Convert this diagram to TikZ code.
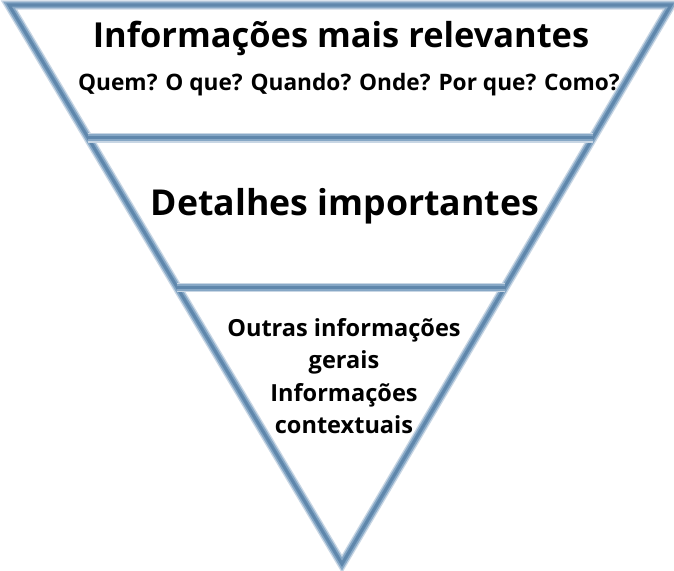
\documentclass[tikz,border=0pt]{standalone}
\usepackage{fontspec}
\setmainfont{Open Sans}
\usepackage{tikz}
\usetikzlibrary{calc}

\tikzset{
  edge/.style={line width=1.8pt, draw={rgb,255:red,95;green,135;blue,172},
    preaction={draw={rgb,255:red,200;green,214;blue,228}, line width=5.4pt},
    preaction={draw={rgb,255:red,135;green,168;blue,198}, line width=3.8pt}},
  label/.style={font=\bfseries, align=center, inner sep=0pt}
}

\begin{document}
\begin{tikzpicture}[x=0.02cm, y=-0.02cm]
        \useasboundingbox (0,0) rectangle (674,571);
        % corners of the funnel
        \coordinate (tl) at (9,5);
        \coordinate (tr) at (671,5);
        \coordinate (apex) at (342,564);
        \coordinate (l1) at ($(tl)!0.2375!(apex)$);
        \coordinate (r1) at ($(tr)!0.2375!(apex)$);
        \coordinate (l2) at ($(tl)!0.505!(apex)$);
        \coordinate (r2) at ($(tr)!0.505!(apex)$);
        \draw [edge] (tl) -- (tr) -- (apex) -- cycle;
        \draw [edge] (l1) -- (r1);
        \draw [edge] (l2) -- (r2);
        % texts
        \node [label, font=\bfseries\fontsize{19.6}{23}\selectfont] (top) at (341,38) {Informações mais relevantes};
        \node [label, font=\bfseries\fontsize{12.9}{15}\selectfont] (ask) at (349,85) {Quem? O que? Quando? Onde? Por que? Como?};
        \node [label, font=\bfseries\fontsize{20.3}{24}\selectfont] (mid) at (345,206) {Detalhes importantes};
        \node [label, font=\bfseries\fontsize{13.4}{18.4}\selectfont] (low) at (344,376) {Outras informações\\gerais\\Informações\\contextuais};
\end{tikzpicture}
\end{document}
